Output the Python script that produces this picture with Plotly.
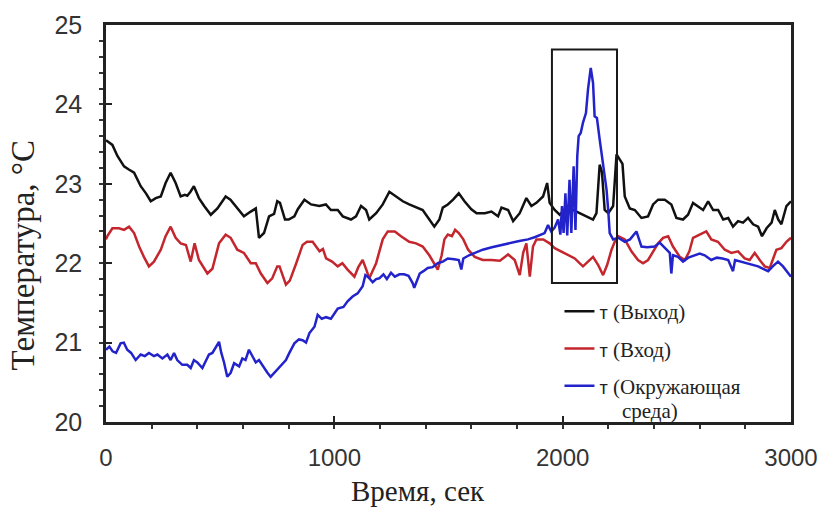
import plotly.graph_objects as go

# ---- data ----
t_out = [0, 15, 28, 50, 79, 100, 123, 152, 175, 196, 218, 240, 261, 283, 305, 327, 345, 356, 370, 385,
         407, 430, 459, 488, 524, 545, 561, 580, 604, 634, 656, 670, 692, 714, 736, 750, 762, 784, 800, 825,
         840, 869, 898, 934, 963, 985, 1015, 1037, 1073, 1095, 1117, 1139, 1153, 1183, 1212, 1241, 1270, 1300, 1328, 1358,
         1387, 1416, 1438, 1460, 1475, 1497, 1520, 1545, 1570, 1600, 1623, 1659, 1688, 1717, 1732, 1761, 1783, 1812, 1841, 1863,
         1885, 1914, 1932, 1943, 1965, 1987, 2009, 2031, 2053, 2082, 2111, 2133, 2148, 2162, 2172, 2184, 2200, 2221, 2236, 2250,
         2262, 2272, 2294, 2316, 2345, 2374, 2396, 2418, 2447, 2476, 2498, 2527, 2549, 2571, 2593, 2615, 2637, 2659, 2681, 2703,
         2725, 2746, 2768, 2790, 2812, 2834, 2856, 2873, 2893, 2915, 2929, 2944, 2958, 2980, 3000]
T_out = [23.55, 23.52, 23.49, 23.35, 23.22, 23.18, 23.14, 22.97, 22.88, 22.78, 22.82, 22.84, 23.01, 23.14, 23.01, 22.84, 22.86, 22.85, 22.90, 22.97,
         22.82, 22.72, 22.61, 22.69, 22.84, 22.80, 22.74, 22.68, 22.59, 22.65, 22.69, 22.32, 22.38, 22.59, 22.62, 22.78, 22.76, 22.55, 22.55, 22.59,
         22.68, 22.80, 22.74, 22.72, 22.74, 22.67, 22.67, 22.59, 22.55, 22.59, 22.72, 22.67, 22.55, 22.63, 22.74, 22.90, 22.84, 22.78, 22.74, 22.70,
         22.67, 22.55, 22.46, 22.55, 22.70, 22.74, 22.80, 22.88, 22.78, 22.68, 22.63, 22.63, 22.65, 22.59, 22.70, 22.67, 22.53, 22.63, 22.82, 22.72,
         22.76, 22.84, 23.01, 22.76, 22.67, 22.61, 22.67, 22.69, 22.66, 22.63, 22.59, 22.55, 22.63, 23.24, 23.15, 22.67, 22.63, 22.72, 23.37, 23.30,
         23.25, 22.84, 22.69, 22.67, 22.57, 22.59, 22.74, 22.80, 22.80, 22.74, 22.57, 22.55, 22.61, 22.76, 22.72, 22.67, 22.78, 22.67, 22.67, 22.55,
         22.57, 22.46, 22.53, 22.51, 22.57, 22.49, 22.46, 22.34, 22.44, 22.51, 22.67, 22.55, 22.49, 22.72, 22.78]

t_in = [0, 6, 28, 57, 79, 101, 123, 145, 166, 188, 210, 240, 261, 283, 305, 327, 350, 371, 388, 407,
        444, 466, 495, 524, 546, 575, 604, 634, 656, 678, 707, 728, 750, 760, 788, 805, 832, 861, 880, 905,
        935, 950, 964, 990, 1015, 1035, 1058, 1088, 1105, 1124, 1140, 1153, 1183, 1212, 1234, 1265, 1292, 1328, 1358, 1387,
        1416, 1438, 1453, 1470, 1482, 1497, 1515, 1529, 1545, 1565, 1586, 1615, 1650, 1688, 1725, 1761, 1790, 1812, 1827, 1841,
        1856, 1870, 1885, 1915, 1943, 1965, 1994, 2024, 2053, 2074, 2089, 2111, 2133, 2155, 2177, 2195, 2214, 2228, 2243, 2272,
        2301, 2330, 2352, 2374, 2396, 2418, 2440, 2462, 2483, 2513, 2535, 2555, 2571, 2600, 2629, 2651, 2680, 2710, 2739, 2768,
        2797, 2819, 2841, 2863, 2885, 2907, 2920, 2936, 2958, 2980, 3000]
T_in = [22.30, 22.34, 22.44, 22.44, 22.42, 22.46, 22.38, 22.21, 22.08, 21.96, 22.02, 22.17, 22.34, 22.46, 22.32, 22.25, 22.23, 22.02, 22.25, 22.04,
        21.87, 21.93, 22.25, 22.36, 22.32, 22.17, 22.13, 22.00, 22.00, 21.87, 21.75, 21.81, 21.96, 21.96, 21.73, 21.78, 21.99, 22.23, 22.27, 22.27,
        22.15, 22.18, 22.06, 22.02, 21.96, 22.00, 21.92, 21.83, 21.95, 22.04, 21.92, 21.81, 22.00, 22.30, 22.40, 22.40, 22.34, 22.27, 22.25, 22.21,
        22.10, 22.00, 21.92, 22.10, 22.30, 22.36, 22.34, 22.42, 22.38, 22.30, 22.17, 22.08, 22.04, 22.04, 22.03, 22.11, 22.04, 21.85, 22.13, 22.25,
        21.83, 22.21, 22.30, 22.30, 22.25, 22.19, 22.15, 22.11, 22.06, 22.00, 21.96, 22.02, 22.08, 21.98, 21.85, 21.98, 22.17, 22.27, 22.34, 22.30,
        22.15, 22.04, 22.00, 22.04, 22.15, 22.25, 22.32, 22.34, 22.21, 22.08, 22.04, 22.15, 22.32, 22.36, 22.40, 22.30, 22.27, 22.17, 22.13, 22.15,
        22.06, 22.04, 22.13, 22.04, 21.96, 21.94, 22.04, 22.17, 22.19, 22.27, 22.32]

t_env = [0, 15, 29, 44, 64, 78, 93, 110, 130, 152, 170, 188, 210, 225, 247, 269, 283, 298, 312, 334,
         356, 371, 385, 400, 422, 437, 451, 466, 481, 495, 505, 517, 531, 546, 561, 583, 597, 611, 626, 641,
         656, 670, 685, 707, 721, 733, 762, 788, 803, 825, 845, 861, 876, 891, 913, 927, 945, 964, 985, 1000,
         1015, 1040, 1058, 1080, 1102, 1124, 1136, 1150, 1168, 1183, 1197, 1215, 1230, 1248, 1265, 1285, 1305, 1325, 1343, 1350,
         1374, 1390, 1409, 1430, 1453, 1475, 1497, 1525, 1545, 1556, 1565, 1590, 1615, 1650, 1690, 1732, 1770, 1810, 1848, 1880,
         1921, 1936, 1950, 1965, 1980, 1990, 1997, 2004, 2012, 2020, 2030, 2038, 2048, 2056, 2064, 2070, 2079, 2089, 2102, 2111,
         2123, 2133, 2140, 2150, 2162, 2177, 2192, 2200, 2206, 2221, 2243, 2272, 2295, 2323, 2345, 2370, 2403, 2425, 2447, 2469,
         2476, 2483, 2505, 2527, 2550, 2585, 2600, 2622, 2651, 2675, 2700, 2725, 2746, 2755, 2780, 2812, 2856, 2878, 2900, 2920,
         2943, 2965, 2987, 3000]
T_env = [20.91, 20.95, 20.89, 20.87, 20.99, 21.00, 20.91, 20.87, 20.78, 20.85, 20.83, 20.87, 20.83, 20.85, 20.80, 20.85, 20.78, 20.87, 20.78, 20.72,
         20.72, 20.68, 20.78, 20.75, 20.68, 20.78, 20.85, 20.87, 20.95, 21.01, 20.87, 20.75, 20.57, 20.62, 20.74, 20.70, 20.80, 20.78, 20.91, 20.83,
         20.75, 20.78, 20.71, 20.62, 20.57, 20.61, 20.70, 20.78, 20.87, 20.99, 21.04, 21.03, 21.00, 21.12, 21.20, 21.35, 21.30, 21.32, 21.30, 21.37,
         21.43, 21.45, 21.52, 21.58, 21.62, 21.71, 21.85, 21.82, 21.76, 21.80, 21.81, 21.86, 21.80, 21.88, 21.83, 21.86, 21.86, 21.84, 21.75, 21.69,
         21.87, 21.90, 21.94, 21.95, 22.00, 22.02, 22.06, 22.05, 22.04, 21.92, 22.06, 22.10, 22.13, 22.17, 22.20, 22.23, 22.25, 22.28, 22.30, 22.33,
         22.38, 22.48, 22.40, 22.45, 22.55, 22.36, 22.72, 22.38, 22.88, 22.35, 23.05, 22.38, 23.22, 22.42, 23.35, 23.60, 23.64, 23.77, 23.89, 24.19,
         24.46, 24.27, 23.85, 23.83, 23.56, 23.22, 22.93, 22.65, 22.38, 22.30, 22.32, 22.27, 22.30, 22.40, 22.21, 22.20, 22.21, 22.26, 22.20, 22.13,
         21.87, 22.10, 22.08, 22.02, 22.07, 22.10, 22.12, 22.10, 22.04, 22.07, 22.06, 22.04, 21.90, 22.04, 22.02, 22.00, 21.96, 21.93, 21.90, 21.96,
         22.02, 21.96, 21.87, 21.83]

# highlighted window (time range and temperature range)
box_t = [1953, 2238]
box_T = [21.75, 24.69]

x_ticks = [0, 1000, 2000, 3000]
y_ticks = [20, 21, 22, 23, 24, 25]

SERIF = "Liberation Serif, Times New Roman, DejaVu Serif, serif"
SANS = "Liberation Sans, Arial, sans-serif"

sans_t = '<span style="font-family:Liberation Sans;font-size:18px">т</span>'
names = [sans_t + " (Выход)", sans_t + " (Вход)", sans_t + " (Окружающая"]
legend_cont = "среда)"
colors = ["#111111", "#c4262e", "#2323cc"]

fig = go.Figure()
for i, (tx, ty) in enumerate([(t_out, T_out), (t_in, T_in), (t_env, T_env)]):
    fig.add_trace(go.Scatter(x=tx, y=ty, mode="lines", name=names[i],
                             legendgroup=str(i),
                             line=dict(color=colors[i], width=2.5)))

fig.add_shape(type="rect", xref="x", yref="y",
              x0=box_t[0], x1=box_t[1], y0=box_T[0], y1=box_T[1],
              line=dict(color="#1a1a1a", width=2), fillcolor="rgba(0,0,0,0)")

fig.update_layout(
    width=820, height=509,
    margin=dict(l=106, r=29, t=25, b=87),
    paper_bgcolor="white", plot_bgcolor="white",
    showlegend=True,
    legend=dict(x=0.662, y=0.33, xanchor="left", yanchor="top",
                bgcolor="rgba(0,0,0,0)", tracegroupgap=7,
                font=dict(family=SERIF, size=21, color="#222")),
    xaxis=dict(range=[0, 3000], tickvals=x_ticks, ticks="inside", ticklen=6, tickwidth=2,
               tickcolor="#222", showline=True, linecolor="#222", linewidth=2.5, mirror=True,
               showgrid=False, zeroline=False, automargin=False, ticklabelstandoff=12,
               tickfont=dict(family=SANS, size=24, color="#333"),
               minor=dict(dtick=200, ticks="outside", ticklen=4, tickwidth=1.5, tickcolor="#333")),
    yaxis=dict(range=[20, 25], tickvals=y_ticks, ticks="inside", ticklen=6, tickwidth=2,
               tickcolor="#222", showline=True, linecolor="#222", linewidth=2.5, mirror=True,
               showgrid=False, zeroline=False, automargin=False, ticklabelstandoff=16,
               tickfont=dict(family=SANS, size=25, color="#333"),
               minor=dict(dtick=0.2, ticks="outside", ticklen=4, tickwidth=1.5, tickcolor="#333")),
    annotations=[
        dict(text="Время, сек", xref="paper", yref="paper", x=0.455, y=-0.175,
             xanchor="center", yanchor="middle", showarrow=False,
             font=dict(family=SERIF, size=29, color="#222")),
        dict(text="Температура, °С", xref="paper", yref="paper", x=-0.121, y=0.42,
             xanchor="center", yanchor="middle", showarrow=False, textangle=-90,
             font=dict(family=SERIF, size=33, color="#222")),
        dict(text=legend_cont, xref="paper", yref="paper", x=(620 - 106) / 685, y=(422 - 411) / 397,
             xanchor="left", yanchor="middle", showarrow=False,
             font=dict(family=SERIF, size=21, color="#222")),
    ],
)

fig.write_html("out.html")
